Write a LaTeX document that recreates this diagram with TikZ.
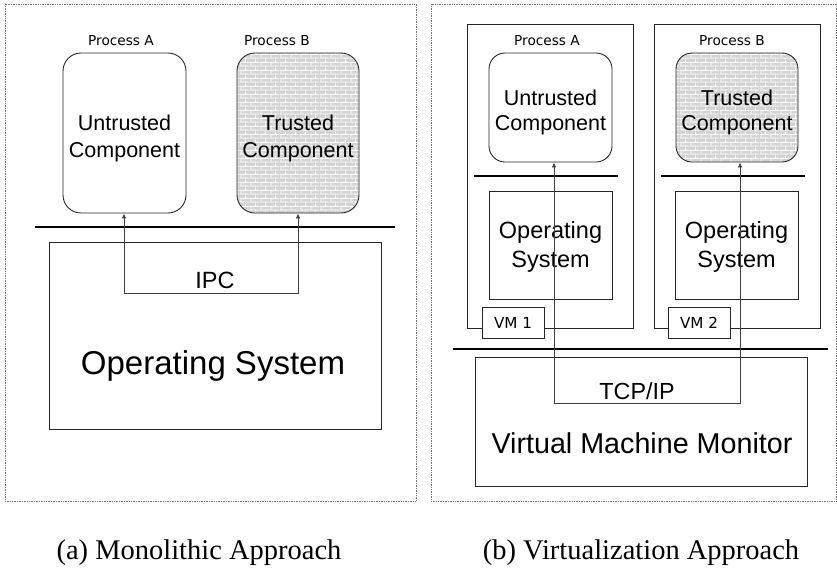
\documentclass[tikz,border=0pt]{standalone}
\usepackage{fontspec}
\setmainfont{Liberation Sans}
\newfontfamily\capfont{Liberation Serif}
\newfontfamily\smallfont{DejaVu Sans}
\usetikzlibrary{arrows.meta,patterns.meta,calc}

\tikzdeclarepattern{
  name=brickwall,
  type=uncolored,
  bottom left={(0pt,0pt)},
  top right={(10pt,8pt)},
  tile size={(10pt,8pt)},
  code={
    \draw[line width=0.8pt] (0pt,1pt) -- (10pt,1pt) (0pt,5pt) -- (10pt,5pt)
      (1pt,1pt) -- (1pt,5pt) (6pt,5pt) -- (6pt,8pt) (6pt,0pt) -- (6pt,1pt);
  }
}

\tikzset{
  frame/.style={draw=black!55, densely dotted, line width=0.7pt, inner sep=0pt},
  plainbox/.style={draw=black!85, line width=0.9pt, inner sep=0pt},
  compbox/.style={plainbox, rounded corners=18pt},
  trusted/.style={preaction={fill=black!17}, pattern=brickwall, pattern color=white},
  bus/.style={line width=2.8pt, black},
  link/.style={draw=black!75, line width=0.8pt,
    {Latex[length=5pt,width=4.5pt]}-{Latex[length=5pt,width=4.5pt]}},
  proclabel/.style={font=\smallfont\fontsize{13.7}{16}\selectfont, inner sep=0pt},
  vmlabel/.style={plainbox, fill=white, font=\smallfont\fontsize{15.2}{18}\selectfont},
  caption/.style={font=\capfont\fontsize{28.5}{32}\selectfont, inner sep=0pt},
}

\begin{document}
\begin{tikzpicture}[x=1pt,y=-1pt]
\useasboundingbox (0,0) rectangle (837,571);

% ---------------- (a) Monolithic ----------------
\node[frame, minimum width=411pt, minimum height=497pt] (frameA) at (210.5,252.5) {};
\node[proclabel] (procA1) at (121,41) {Process A};
\node[proclabel] (procB1) at (277,41) {Process B};
\node[compbox, minimum width=123pt, minimum height=160pt] (untrustA) at (124.5,133) {};
\node[compbox, trusted, minimum width=122pt, minimum height=160pt] (trustA) at (298,133) {};
\node[align=center, inner sep=0pt, font=\fontsize{21.5}{27}\selectfont] (untrustAt) at (124.5,138) {Untrusted\\Component};
\node[align=center, inner sep=0pt, font=\fontsize{21.5}{27}\selectfont] (trustAt) at (298,138) {Trusted\\Component};
\coordinate (busAl) at (35,227);
\coordinate (busAr) at (395,227);
\draw[bus] (busAl) -- (busAr);
\node[plainbox, minimum width=332pt, minimum height=187pt] (osA) at (215,335.5) {};
\node[inner sep=0pt, font=\fontsize{33}{38}\selectfont] (osAt) at (213,366) {Operating System};
\node[inner sep=0pt, font=\fontsize{23.5}{28}\selectfont] (ipc) at (215,280.5) {IPC};
\coordinate (ipcL) at (124,293);
\coordinate (ipcR) at (298,293);
\draw[link] (ipcL |- untrustA.south) -- (ipcL) -- (ipcR) -- (ipcR |- trustA.south);

% ---------------- (b) Virtualization ----------------
\node[frame, minimum width=405pt, minimum height=497pt] (frameB) at (633.5,252.5) {};
\node[plainbox, minimum width=166pt, minimum height=304pt] (vm1) at (550,176) {};
\node[plainbox, minimum width=166pt, minimum height=304pt] (vm2) at (737,176) {};
\node[proclabel] (procA2) at (547,41) {Process A};
\node[proclabel] (procB2) at (732,41) {Process B};
\node[compbox, rounded corners=16pt, minimum width=123pt, minimum height=109pt] (untrustB) at (550.5,107.5) {};
\node[compbox, rounded corners=16pt, trusted, minimum width=122pt, minimum height=109pt] (trustB) at (737,107.5) {};
\node[align=center, inner sep=0pt, font=\fontsize{21.5}{25}\selectfont] (untrustBt) at (550.5,112) {Untrusted\\Component};
\node[align=center, inner sep=0pt, font=\fontsize{21.5}{25}\selectfont] (trustBt) at (737,112) {Trusted\\Component};
\coordinate (bus1l) at (474,176);
\coordinate (bus1r) at (618,176);
\coordinate (bus2l) at (661,176);
\coordinate (bus2r) at (805,176);
\draw[bus] (bus1l) -- (bus1r);
\draw[bus] (bus2l) -- (bus2r);
\node[plainbox, minimum width=123pt, minimum height=108pt] (os1) at (550.5,245) {};
\node[plainbox, minimum width=123pt, minimum height=108pt] (os2) at (736.5,245) {};
\node[align=center, inner sep=0pt, font=\fontsize{23.5}{29}\selectfont] (os1t) at (550.5,247) {Operating\\System};
\node[align=center, inner sep=0pt, font=\fontsize{23.5}{29}\selectfont] (os2t) at (736.5,247) {Operating\\System};
\node[vmlabel, minimum width=62pt, minimum height=31pt] (vm1l) at (513,322.5) {VM 1};
\node[vmlabel, minimum width=62pt, minimum height=31pt] (vm2l) at (699,322.5) {VM 2};
\coordinate (busBl) at (453,349);
\coordinate (busBr) at (828,349);
\draw[bus] (busBl) -- (busBr);
\node[plainbox, minimum width=332pt, minimum height=129pt] (vmm) at (641,421.5) {};
\node[inner sep=0pt, font=\fontsize{23.3}{28}\selectfont] (tcp) at (637,391) {TCP/IP};
\node[inner sep=0pt, font=\fontsize{28.7}{34}\selectfont] (vmmt) at (642,443) {Virtual Machine Monitor};
\coordinate (tcpL) at (554,403);
\coordinate (tcpR) at (740,403);
\draw[link] (tcpL |- untrustB.south) -- (tcpL) -- (tcpR) -- (tcpR |- trustB.south);

% ---------------- captions ----------------
\node[caption] (capA) at (199,553) {(a) Monolithic Approach};
\node[caption] (capB) at (641,553) {(b) Virtualization Approach};
\end{tikzpicture}
\end{document}
